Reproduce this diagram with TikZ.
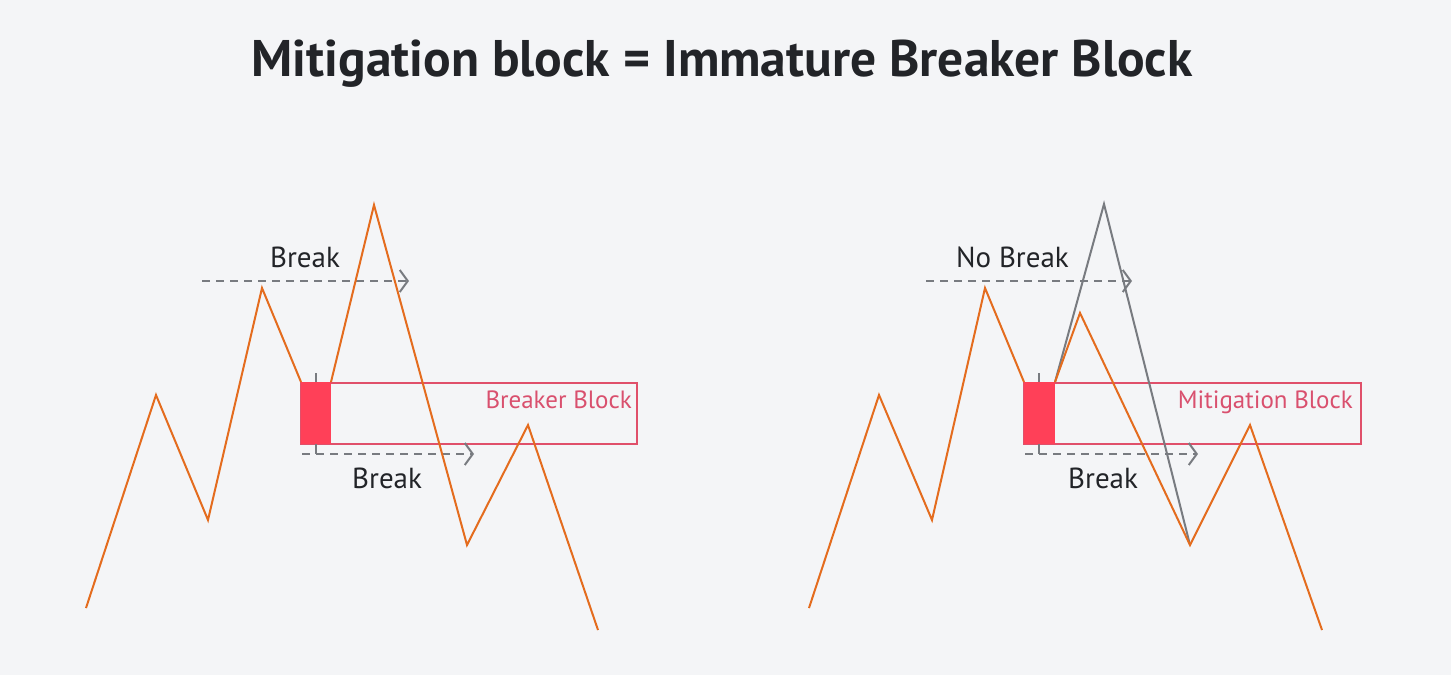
\documentclass[tikz,border=0pt]{standalone}
\usepackage{fontspec}
\setmainfont{PT Sans}
\usetikzlibrary{arrows.meta}
\definecolor{bg}{HTML}{F4F5F7}
\definecolor{price}{HTML}{E46C1E}
\definecolor{candle}{HTML}{FF4058}
\definecolor{zone}{HTML}{E0506A}
\definecolor{zonetext}{HTML}{D9506E}
\definecolor{guide}{HTML}{787B80}
\definecolor{ink}{HTML}{222428}
\tikzset{
  pricepath/.style={draw=price, line width=2pt, line join=miter},
  ghostpath/.style={draw=guide, line width=2pt},
  zonebox/.style={draw=zone, line width=2pt},
  candlebody/.style={fill=candle, draw=none},
  wick/.style={draw=guide, line width=1.6pt},
  breakline/.style={draw=guide, line width=2pt, dash pattern=on 8pt off 6pt, -{Straight Barb[length=8pt,width=22pt]}},
  lbl/.style={font=\fontsize{29}{32}\selectfont, text=ink, inner sep=0pt},
  zonelbl/.style={font=\fontsize{25}{28}\selectfont, text=zonetext, inner sep=0pt},
  titlelbl/.style={font=\fontsize{51.5}{56}\selectfont\bfseries, text=ink, inner sep=0pt}
}
\begin{document}
\begin{tikzpicture}[x=1pt,y=-1pt]
\fill[bg] (0,0) rectangle (1451,675);
\useasboundingbox (0,0) rectangle (1451,675);
\node[titlelbl, anchor=base] (title) at (722,76) {Mitigation block = Immature Breaker Block};
% ---------- left panel ----------
\begin{scope}
\draw[zonebox] (301,383) rectangle (637,443.5);
\node[zonelbl, anchor=base east] (bbl) at (632,408) {Breaker Block};
\draw[wick] (316,373) -- (316,454);
\draw[breakline] (202,281) -- (409,281);
\draw[breakline] (302,454) -- (474,454);
\fill[candlebody] (301,382) rectangle (331,444);
\draw[pricepath] (86,608) -- (156,395) -- (208,520) -- (262,288) -- (301,382);
\draw[pricepath] (331,382) -- (374,205) -- (467,545) -- (528,425) -- (598,630);
\node[lbl, anchor=base west] (b1) at (270,267) {Break};
\node[lbl, anchor=base west] (b2) at (352,488) {Break};
\end{scope}
% ---------- right panel ----------
\begin{scope}[xshift=723pt]
\draw[zonebox] (301,383) rectangle (638,443.5);
\node[zonelbl, anchor=base east] (mbl) at (630,408) {Mitigation Block};
\draw[wick] (316,373) -- (316,454);
\draw[breakline] (203,281) -- (409,281);
\draw[breakline] (302,454) -- (475,454);
\fill[candlebody] (301,382) rectangle (332,444);
\draw[ghostpath] (332,382) -- (381,204) -- (467,545);
\draw[pricepath] (86,608) -- (156,395) -- (209,520) -- (262,288) -- (301,382);
\draw[pricepath] (332,382) -- (357,313) -- (467,545) -- (527,425) -- (599,630);
\node[lbl, anchor=base west] (nb) at (233,267) {No Break};
\node[lbl, anchor=base west] (b3) at (345,488) {Break};
\end{scope}
\end{tikzpicture}
\end{document}
